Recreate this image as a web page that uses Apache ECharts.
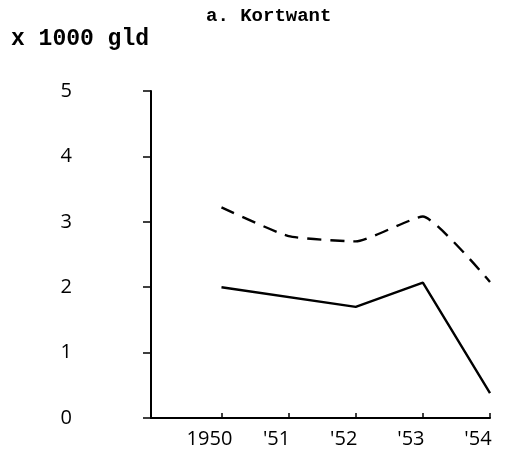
<!DOCTYPE html>
<html>
<head>
<meta charset="utf-8">
<script src="https://cdn.jsdelivr.net/npm/echarts@6/dist/echarts.min.js"></script>
<style>
  html, body { margin: 0; padding: 0; background: #fff; }
  #chart { width: 505px; height: 457px; }
</style>
</head>
<body>
<div id="chart"></div>
<script>
const years = [1950, 1951, 1952, 1953, 1954]
const yearLabels = ['1950', "'51", "'52", "'53", "'54"]
const solidYears = [1950, 1952, 1953, 1954]
const solidValues = [2.0, 1.7, 2.07, 0.38]
const dashedValues = [3.22, 2.78, 2.7, 3.08, 2.08]
const yTicks = [0, 1, 2, 3, 4, 5]

const chart = echarts.init(document.getElementById('chart'))

const mono = "'Liberation Mono', 'DejaVu Sans Mono', monospace"
const sans = "'Open Sans', 'Noto Sans', sans-serif"

const option = {
  animation: false,
  title: [
    {
      text: 'a. Kortwant',
      left: 201,
      top: 2,
      textStyle: { fontFamily: mono, fontSize: 19, fontWeight: 'bold', color: '#000' }
    },
    {
      text: 'x 1000 gld',
      left: 6,
      top: 23,
      textStyle: { fontFamily: mono, fontSize: 23, fontWeight: 'bold', color: '#000' }
    }
  ],
  grid: {
    left: 151,
    right: 15,
    top: 91,
    bottom: 39
  },
  xAxis: {
    type: 'value',
    min: 1948.95,
    max: 1954,
    splitLine: { show: false },
    axisLine: { lineStyle: { color: '#000', width: 2 } },
    axisTick: {
      inside: true,
      length: 5,
      customValues: years,
      lineStyle: { color: '#000', width: 1.5 }
    },
    axisLabel: {
      customValues: years,
      formatter: (v) => yearLabels[years.indexOf(v)] ?? '',
      fontFamily: sans,
      fontSize: 20,
      color: '#000',
      margin: 11,
      padding: [0, 24, 0, 0]
    }
  },
  yAxis: {
    type: 'value',
    min: 0,
    max: 5,
    interval: 1,
    splitLine: { show: false },
    axisLine: { show: true, lineStyle: { color: '#000', width: 2 } },
    axisTick: { show: true, length: 8, lineStyle: { color: '#000', width: 1.5 } },
    axisLabel: {
      formatter: (v) => yTicks.includes(v) ? String(v) : '',
      fontFamily: sans,
      fontSize: 20,
      color: '#000',
      margin: 79
    }
  },
  series: [
    {
      type: 'line',
      data: years.map((y, i) => [y, dashedValues[i]]),
      showSymbol: false,
      smooth: 0.15,
      lineStyle: { color: '#000', width: 2.4, type: [14, 9] }
    },
    {
      type: 'line',
      data: solidYears.map((y, i) => [y, solidValues[i]]),
      showSymbol: false,
      lineStyle: { color: '#000', width: 2.4 }
    }
  ]
}

chart.setOption(option)
</script>
</body>
</html>
